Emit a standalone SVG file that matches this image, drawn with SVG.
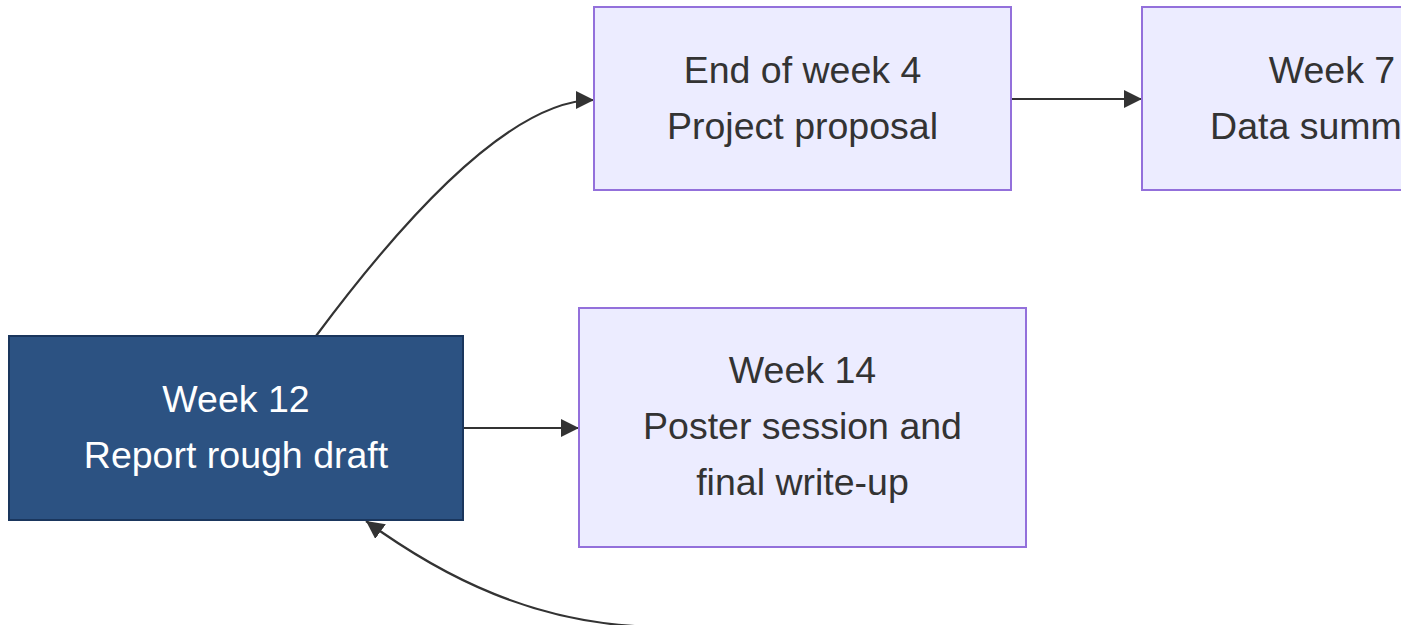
<svg xmlns="http://www.w3.org/2000/svg" width="1401" height="625" viewBox="0 0 1401 625">
<style>
  .node-light rect { fill: #ECECFF; stroke: #9370DB; stroke-width: 2; }
  .node-dark rect { fill: #2C5282; stroke: #1A365D; stroke-width: 2; }
  text { font-family: "Liberation Sans", Arial, sans-serif; font-size: 37.5px; text-anchor: middle; }
  .node-light text { fill: #333333; }
  .node-dark text { fill: #FFFFFF; }
  .edge { fill: none; stroke: #333333; stroke-width: 2.2; }
</style>
<defs>
  <marker id="arrow" viewBox="0 0 10 10" refX="10" refY="5" markerUnits="userSpaceOnUse" markerWidth="18" markerHeight="18" orient="auto">
    <path d="M0,0 L10,5 L0,10 z" fill="#333333"/>
  </marker>
</defs>
<rect x="0" y="0" width="1401" height="625" fill="#FFFFFF"/>
<g id="connectors">
  <path class="edge" d="M316,336 C380,250 500,100 594,100" marker-end="url(#arrow)"/>
  <path class="edge" d="M1011,99 L1142,99" marker-end="url(#arrow)"/>
  <path class="edge" d="M463,428 L579,428" marker-end="url(#arrow)"/>
  <path class="edge" d="M660,627 C535,626 440,575 366,521" marker-end="url(#arrow)"/>
</g>
<g id="node-week12" class="node-dark">
  <rect x="9" y="336" width="454" height="184"/>
  <text x="236" y="412">Week 12</text>
  <text x="236" y="468">Report rough draft</text>
</g>
<g id="node-week4" class="node-light">
  <rect x="594" y="7" width="417" height="183"/>
  <text x="802.5" y="83">End of week 4</text>
  <text x="802.5" y="139">Project proposal</text>
</g>
<g id="node-week7" class="node-light">
  <rect x="1142" y="7" width="417" height="183"/>
  <text x="1332" y="83">Week 7</text>
  <text x="1332" y="139">Data summary</text>
</g>
<g id="node-week14" class="node-light">
  <rect x="579" y="308" width="447" height="239"/>
  <text x="802.5" y="383">Week 14</text>
  <text x="802.5" y="439">Poster session and</text>
  <text x="802.5" y="495">final write-up</text>
</g>
</svg>
